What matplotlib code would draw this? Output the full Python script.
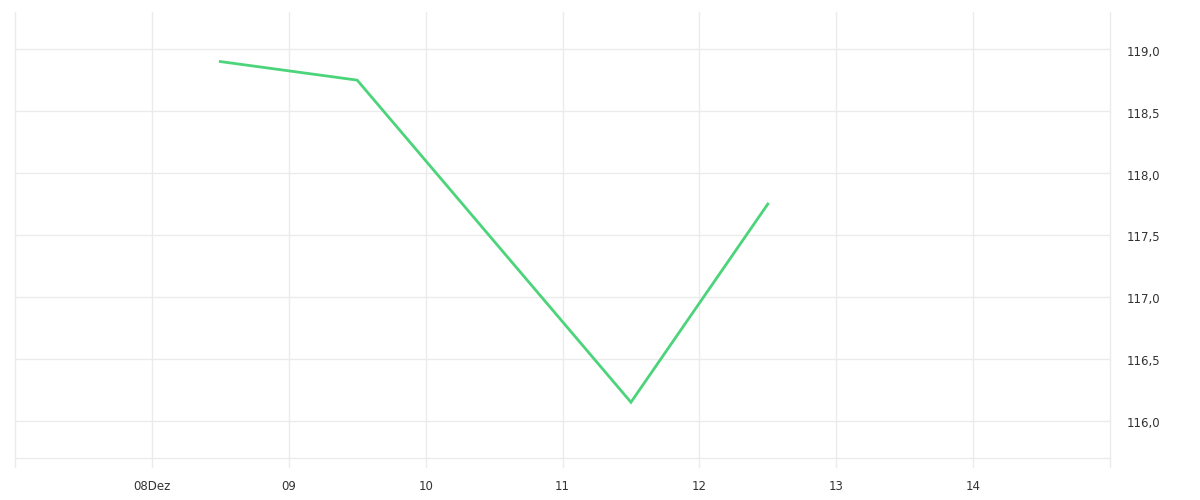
import matplotlib
matplotlib.use("Agg")
import matplotlib.pyplot as plt
import matplotlib.transforms as mtransforms
import pandas as pd

# Data
dates = pd.to_datetime(["2023-12-08 12:00", "2023-12-09 12:00", "2023-12-11 12:00", "2023-12-12 12:00"])
values = [118.9, 118.75, 116.15, 117.75]
tick_dates = pd.to_datetime(["2023-12-07", "2023-12-08", "2023-12-09", "2023-12-10", "2023-12-11",
                             "2023-12-12", "2023-12-13", "2023-12-14", "2023-12-15"])
tick_labels = ["", "08Dez", "09", "10", "11", "12", "13", "14", ""]
y_ticks = [116.0, 116.5, 117.0, 117.5, 118.0, 118.5, 119.0]
y_labels = ["116,0", "116,5", "117,0", "117,5", "118,0", "118,5", "119,0"]

fig = plt.figure(figsize=(12, 5), dpi=100)
ax = fig.add_axes([15/1200, 1 - 458/500, (1110 - 15)/1200, (458 - 12)/500])

grid_c = "#ebebeb"
ax.set_xlim(tick_dates[0], tick_dates[-1])
ax.set_ylim(115.70, 119.30)

for s in ax.spines.values():
    s.set_visible(False)

# horizontal gridlines
for y in y_ticks:
    ax.axhline(y, color=grid_c, lw=1, zorder=0)
ax.axhline(115.70, color=grid_c, lw=1, zorder=0, clip_on=False)
# vertical gridlines extending slightly below the plot
xt = ax.get_xaxis_transform()
for d in tick_dates:
    ax.plot([d, d], [-0.02, 1.0], transform=xt, color=grid_c, lw=1, clip_on=False, zorder=0)

ax.plot(dates, values, color="#4cd47a", lw=2, solid_joinstyle="miter", zorder=3)

ax.set_xticks(tick_dates)
ax.set_xticklabels(tick_labels)
ax.yaxis.tick_right()
ax.set_yticks(y_ticks)
ax.set_yticklabels(y_labels)
ax.tick_params(axis="both", length=0, labelsize=8.5, labelcolor="#333333")
ax.tick_params(axis="x", pad=16)
ax.tick_params(axis="y", pad=12)
off = mtransforms.ScaledTranslation(0, -3/100, fig.dpi_scale_trans)
for lab in ax.get_yticklabels():
    lab.set_verticalalignment("center")
    lab.set_transform(lab.get_transform() + off)

fig.savefig("out.png", dpi=100, facecolor="white")
